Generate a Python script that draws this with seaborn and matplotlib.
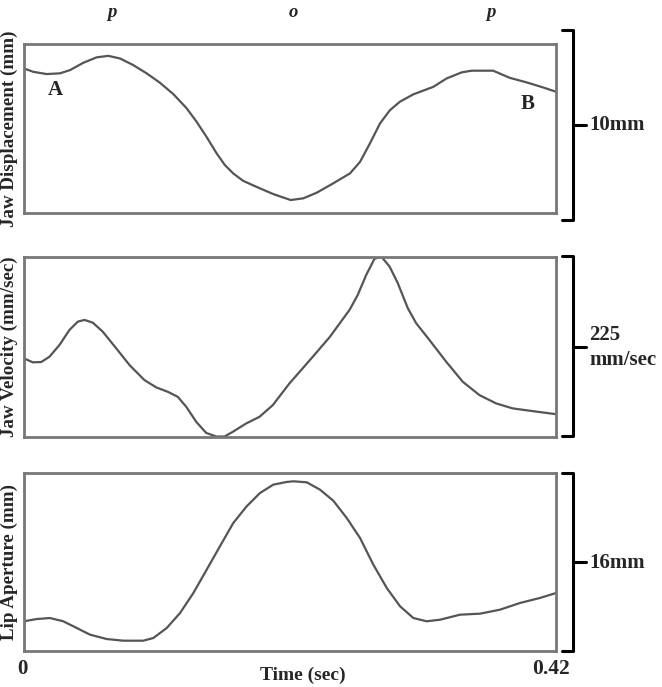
import numpy as np
import pandas as pd
import matplotlib
matplotlib.use("Agg")
import matplotlib.pyplot as plt
from matplotlib.lines import Line2D
import seaborn as sns

# Jaw displacement (mm) vs time (sec)
disp_t = [0, 0.0073, 0.0179, 0.0284, 0.0363, 0.0468, 0.0574, 0.0665, 0.0758, 0.0862,
          0.0968, 0.1073, 0.1178, 0.1284, 0.1363, 0.1441, 0.1521, 0.1586, 0.1651, 0.1730,
          0.1836, 0.1967, 0.2105, 0.2205, 0.2311, 0.2442, 0.2574, 0.2653, 0.2731, 0.2811,
          0.2889, 0.2968, 0.3073, 0.3231, 0.3337, 0.3455, 0.3534, 0.3704, 0.3835, 0.3967,
          0.4098, 0.4200]
disp_mm = [7.96, 7.78, 7.66, 7.70, 7.87, 8.26, 8.55, 8.63, 8.49, 8.14,
           7.70, 7.20, 6.60, 5.84, 5.12, 4.32, 3.44, 2.82, 2.38, 1.98,
           1.66, 1.28, 0.96, 1.05, 1.35, 1.85, 2.38, 2.99, 3.97, 5.04,
           5.74, 6.19, 6.58, 6.98, 7.43, 7.75, 7.84, 7.84, 7.46, 7.22,
           6.95, 6.72]

# Jaw velocity (mm/sec)
vel_t = [0, 0.0069, 0.0136, 0.0201, 0.0280, 0.0359, 0.0425, 0.0478, 0.0543, 0.0622,
         0.0728, 0.0833, 0.0951, 0.1044, 0.1135, 0.1214, 0.1281, 0.1360, 0.1438, 0.1517,
         0.1583, 0.1648, 0.1754, 0.1859, 0.1964, 0.2096, 0.2280, 0.2412, 0.2570, 0.2635,
         0.2702, 0.2767, 0.2820, 0.2886, 0.2951, 0.3030, 0.3096, 0.3201, 0.3333, 0.3464,
         0.3596, 0.3728, 0.3859, 0.4017, 0.4200]
vel_mms = [97.7, 92.7, 93.1, 99.7, 114.4, 133.2, 143.6, 145.7, 142.3, 131.0,
           110.2, 89.3, 70.5, 61.4, 55.9, 49.6, 37.1, 18.3, 4.5, 0.0,
           0.0, 5.8, 16.3, 24.6, 39.2, 66.4, 99.7, 124.0, 158.2, 177.0,
           202.1, 222.1, 225.0, 212.5, 191.7, 160.4, 141.6, 120.6, 93.5, 68.4,
           51.7, 41.3, 35.1, 31.7, 27.9]

# Lip aperture (mm)
lip_t = [0, 0.0100, 0.0205, 0.0310, 0.0416, 0.0521, 0.0653, 0.0784, 0.0942, 0.1021,
         0.1127, 0.1232, 0.1337, 0.1442, 0.1547, 0.1652, 0.1758, 0.1863, 0.1968, 0.2074,
         0.2126, 0.2232, 0.2337, 0.2442, 0.2548, 0.2653, 0.2758, 0.2864, 0.2969, 0.3074,
         0.3179, 0.3285, 0.3442, 0.3600, 0.3758, 0.3916, 0.4074, 0.4200]
lip_mm = [2.69, 2.89, 2.98, 2.69, 2.09, 1.49, 1.10, 0.95, 0.95, 1.19,
          2.09, 3.43, 5.22, 7.31, 9.41, 11.49, 12.99, 14.18, 14.93, 15.17,
          15.23, 15.14, 14.48, 13.49, 11.94, 10.15, 7.76, 5.67, 4.03, 2.98,
          2.69, 2.83, 3.28, 3.37, 3.73, 4.33, 4.78, 5.22]

panel_labels = ["Jaw Displacement (mm)", "Jaw Velocity (mm/sec)", "Lip Aperture (mm)"]
scale_labels = ["10mm", "225\nmm/sec", "16mm"]
phones = ["p", "o", "p"]
phone_t = [0.0695, 0.2124, 0.3687]

W, H = 662, 687


def fx(px):
    return px / W


def fy(py):
    return 1 - py / H


def main():
    sns.set_style("white")
    plt.rcParams["font.family"] = ["Liberation Serif", "DejaVu Serif"]
    plt.rcParams["font.weight"] = "bold"

    fig = plt.figure(figsize=(W / 100, H / 100), dpi=100)

    # (top, bottom) of each panel box in pixels
    boxes = [(44, 213), (256.5, 436.5), (472.7, 651.3)]
    left, right = 24, 556
    series = [
        (disp_t, disp_mm, (0.27, 9.26)),
        (vel_t, vel_mms, (0, 225)),
        (lip_t, lip_mm, (0, 16)),
    ]
    # bracket (top, bottom, tick) in pixels
    brackets = [(29.5, 219.5, 124.5), (256, 435.5, 346.5), (473.3, 651, 561.7)]

    axes = []
    for i, ((top, bot), (t, v, ylim)) in enumerate(zip(boxes, series)):
        ax = fig.add_axes([fx(left), fy(bot), (right - left) / W, (bot - top) / H])
        df = pd.DataFrame({"t": t, "v": v})
        sns.lineplot(data=df, x="t", y="v", ax=ax, color="#555555", linewidth=1.6)
        ax.set_xlim(0, 0.42)
        ax.set_ylim(*ylim)
        ax.set_xticks([])
        ax.set_yticks([])
        ax.set_xlabel("")
        ax.set_ylabel(panel_labels[i], fontsize=13.7, fontweight="bold")
        ax.yaxis.set_label_coords(-0.012, 0.5)
        for s in ax.spines.values():
            s.set_visible(True)
            s.set_color("#777777")
            s.set_linewidth(2)
        axes.append(ax)

        # scale bracket on the right
        btop, bbot, tick = brackets[i]
        bx0, bx1 = 562, 573
        xs = [fx(bx0), fx(bx1), fx(bx1), fx(bx0)]
        ys = [fy(btop), fy(btop), fy(bbot), fy(bbot)]
        fig.add_artist(Line2D(xs, ys, color="black", linewidth=2.2))
        fig.add_artist(Line2D([fx(bx1), fx(586)], [fy(tick), fy(tick)],
                              color="black", linewidth=2.2))
        fig.text(fx(589), fy(tick + 1), scale_labels[i], fontsize=15, fontweight="bold",
                 ha="left", va="center", linespacing=1.3)

    # phone labels on top
    for ph, pt in zip(phones, phone_t):
        x = left + pt / 0.42 * (right - left)
        fig.text(fx(x), fy(17), ph, fontsize=13.5, fontweight="bold",
                 fontstyle="italic", ha="center", va="baseline")

    ax0 = axes[0]
    ax0.text(0.059, 0.728, "A", transform=ax0.transAxes, fontsize=15,
             fontweight="bold", ha="center", va="center")
    ax0.text(0.946, 0.647, "B", transform=ax0.transAxes, fontsize=15,
             fontweight="bold", ha="center", va="center")

    fig.text(fx(22), fy(669), "0", fontsize=15, fontweight="bold", ha="center", va="center")
    fig.text(fx(551), fy(669), "0.42", fontsize=15.5, fontweight="bold", ha="center", va="center")
    fig.text(fx(303), fy(675), "Time (sec)", fontsize=14, fontweight="bold",
             ha="center", va="center")

    fig.savefig("out.png", dpi=100)
    plt.close(fig)


if __name__ == "__main__":
    main()
